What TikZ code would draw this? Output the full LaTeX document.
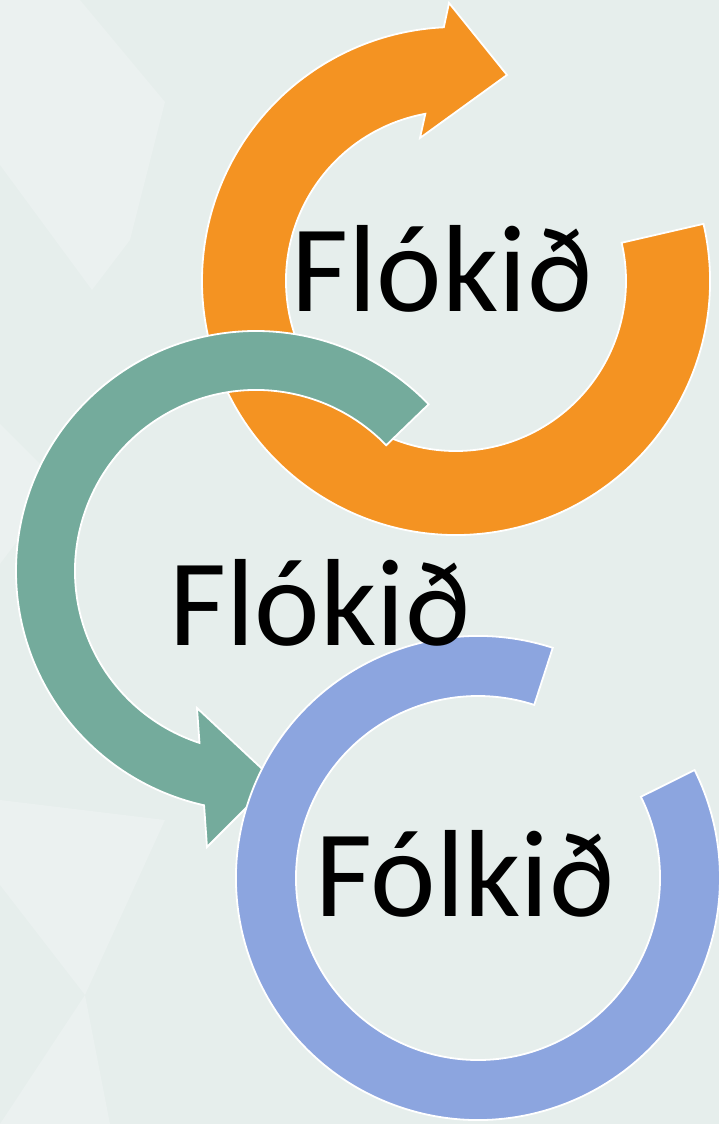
\documentclass[tikz,border=0pt]{standalone}
\usepackage{fontspec}
\setmainfont{Carlito}
\definecolor{bgbase}{RGB}{230,238,236}
\definecolor{bglight}{RGB}{235,241,240}
\definecolor{arrOrange}{RGB}{244,147,34}
\definecolor{arrTeal}{RGB}{116,171,156}
\definecolor{arrBlue}{RGB}{140,165,223}
\begin{document}
\begin{tikzpicture}[x=1pt,y=1pt,
  arcshape/.style={draw=white, line width=1.8pt, line join=miter},
  wordtext/.style={font=\fontsize{124}{124}\selectfont, text=black, inner sep=0pt, anchor=base}]
\useasboundingbox (0,0) rectangle (719,1124);
\fill[bgbase] (0,0) rectangle (719,1124);
% faint background facets
\fill[bglight] (0,1124) -- (80,1124) -- (165,1022) -- (130,884) -- (92,834) -- (0,959) -- cycle;
\fill[bglight] (0,700) -- (60,640) -- (0,560) -- cycle;
\fill[bglight] (0,324) -- (165,304) -- (85,129) -- (0,239) -- cycle;
\fill[bglight] (85,129) -- (0,0) -- (110,0) -- cycle;
% orange circular arrow
\draw[arcshape, fill=arrOrange]
  ([shift={(456,843)}]13:254) arc[start angle=13, end angle=-267.25, radius=254]
  -- (449,1121) -- (507,1049) -- (420,986)
  -- ([shift={(456,843)}]-259.6:170) arc[start angle=-259.6, end angle=13, radius=170]
  -- cycle;
% teal circular arrow
\draw[arcshape, fill=arrTeal]
  ([shift={(256,553)}]44:240) arc[start angle=44, end angle=257.5, radius=240]
  -- (207,277) -- (274,344) -- (197,416)
  -- ([shift={(256,553)}]251.8:181) arc[start angle=251.8, end angle=44, radius=181]
  -- cycle;
% blue ring segment
\draw[arcshape, fill=arrBlue]
  ([shift={(478,246)}]72:242) arc[start angle=72, end angle=386.5, radius=242]
  -- ([shift={(478,246)}]386.5:182) arc[start angle=386.5, end angle=72, radius=182]
  -- cycle;
% texts
\node[wordtext] (w1) at (442,812) {Flókið};
\node[wordtext] (w2) at (320,478) {Flókið};
\node[wordtext] (w3) at (465,207) {Fólkið};
\end{tikzpicture}
\end{document}
